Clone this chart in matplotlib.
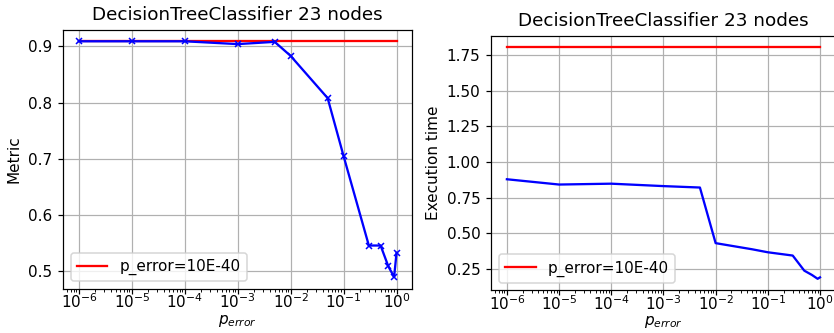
import matplotlib
matplotlib.use("Agg")
import matplotlib.pyplot as plt

p_error = [1e-6, 1e-5, 1e-4, 1e-3, 5e-3, 1e-2, 5e-2, 0.1, 0.3, 0.5, 0.7, 0.9, 1.0]
metric = [0.909, 0.909, 0.909, 0.904, 0.908, 0.883, 0.808, 0.705, 0.546, 0.546, 0.509, 0.490, 0.533]
exec_time = [0.878, 0.841, 0.847, 0.830, 0.820, 0.430, 0.387, 0.366, 0.343, 0.237, 0.207, 0.180, 0.190]
ref_metric = 0.909
ref_time = 1.804
title = "DecisionTreeClassifier 23 nodes"
ref_label = "p_error=10E-40"

fig = plt.figure(figsize=(834 / 110, 333 / 110), dpi=110)
ax1 = fig.add_axes([0.0755, 0.1327, 0.419, 0.7787])
ax2 = fig.add_axes([0.589, 0.128, 0.413, 0.765])

# left: metric
ax1.plot(p_error, [ref_metric] * len(p_error), color="r", label=ref_label)
ax1.plot(p_error, metric, color="b", marker="x", markersize=4.5)
ax1.set_xscale("log")
ax1.set_title(title)
ax1.set_xlabel("$p_{error}$", labelpad=1)
ax1.set_ylabel("Metric")
ax1.grid()
ax1.legend(loc="lower left")

# right: execution time
ax2.plot(p_error, [ref_time] * len(p_error), color="r", label=ref_label)
ax2.plot(p_error, exec_time, color="b")
ax2.set_xscale("log")
ax2.set_title(title)
ax2.set_xlabel("$p_{error}$", labelpad=1)
ax2.set_ylabel("Execution time")
ax2.grid()
ax2.legend(loc="lower left")

for ax in (ax1, ax2):
    ax.tick_params(axis="x", pad=-1)

fig.savefig("out.png", dpi=110)
